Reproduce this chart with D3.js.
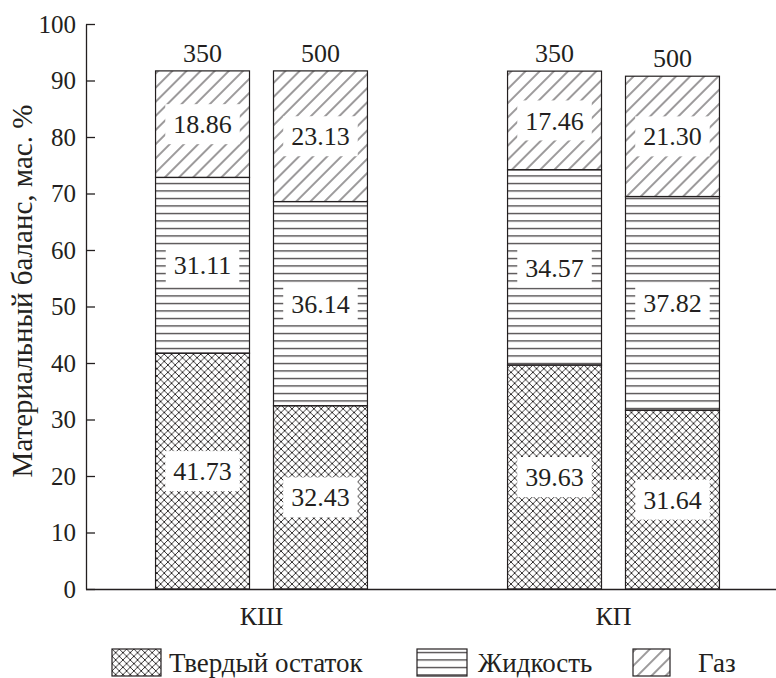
<!DOCTYPE html>
<html>
<head>
<meta charset="utf-8">
<script src="https://cdn.jsdelivr.net/npm/d3@7"></script>
<style>
  body { margin: 0; background: #fff; }
  svg text { font-family: "Liberation Serif", "DejaVu Serif", serif !important; fill: #231f20; }
</style>
</head>
<body>
<div id="chart"></div>
<script>
// data
var groups = ["КШ", "КП"];
var temps = ["350", "500"];
var keys = ["solid", "liquid", "gas"];
var legendNames = ["Твердый остаток", "Жидкость", "Газ"];
var solid = [41.73, 32.43, 39.63, 31.64];
var liquid = [31.11, 36.14, 34.57, 37.82];
var gas = [18.86, 23.13, 17.46, 21.30];
var yTicks = [0, 10, 20, 30, 40, 50, 60, 70, 80, 90, 100];

var width = 776, height = 678;
var ink = "#231f20";

// one row per bar
var rows = [];
groups.forEach(function(g, i) {
  temps.forEach(function(t, j) {
    var k = i * temps.length + j;
    rows.push({group: g, temp: t, solid: solid[k], liquid: liquid[k], gas: gas[k]});
  });
});

var svg = d3.select("#chart")
  .append("svg")
    .attr("width", width)
    .attr("height", height);

// hatch patterns
var defs = svg.append("defs");

var cross = defs.append("pattern")
    .attr("id", "pat-solid")
    .attr("patternUnits", "userSpaceOnUse")
    .attr("width", 7.3).attr("height", 7.3);
cross.append("path")
    .attr("d", "M0,0L7.3,7.3M7.3,0L0,7.3M-1,1L1,-1M6.3,8.3L8.3,6.3")
    .attr("stroke", ink).attr("stroke-width", 0.9).attr("fill", "none");

var horiz = defs.append("pattern")
    .attr("id", "pat-liquid")
    .attr("patternUnits", "userSpaceOnUse")
    .attr("width", 10).attr("height", 7.5);
horiz.append("line")
    .attr("x1", 0).attr("x2", 10).attr("y1", 3.5).attr("y2", 3.5)
    .attr("stroke", ink).attr("stroke-width", 1.1);

var diag = defs.append("pattern")
    .attr("id", "pat-gas")
    .attr("patternUnits", "userSpaceOnUse")
    .attr("width", 10).attr("height", 10)
    .attr("patternTransform", "rotate(45)");
diag.append("line")
    .attr("x1", 2).attr("x2", 2).attr("y1", 0).attr("y2", 10)
    .attr("stroke", ink).attr("stroke-width", 0.9);

// scales
var x0 = d3.scaleBand()
    .domain(groups)
    .range([85.5, 789.5])
    .paddingInner(0.398)
    .paddingOuter(0.199);

var x1 = d3.scaleBand()
    .domain(temps)
    .range([0, x0.bandwidth()])
    .paddingInner(0.2034)
    .paddingOuter(0);

var y = d3.scaleLinear()
    .domain([0, 100])
    .range([589, 24]);

// stack
var stacked = d3.stack().keys(keys)(rows);

var barG = svg.append("g");

barG.selectAll("g")
  .data(stacked)
  .enter().append("g")
    .attr("fill", function(d) { return "url(#pat-" + d.key + ")"; })
    .selectAll("rect")
    .data(function(d) { return d; })
    .enter().append("rect")
      .attr("x", function(d) { return x0(d.data.group) + x1(d.data.temp); })
      .attr("y", function(d) { return y(d[1]); })
      .attr("width", x1.bandwidth())
      .attr("height", function(d) { return y(d[0]) - y(d[1]); })
      .attr("stroke", ink)
      .attr("stroke-width", 1.2);

// value labels in white boxes
var fmt = d3.format(".2f");
stacked.forEach(function(layer) {
  layer.forEach(function(d) {
    var cx = x0(d.data.group) + x1(d.data.temp) + x1.bandwidth() / 2;
    var cy = y((d[0] + d[1]) / 2);
    var lg = barG.append("g");
    var box = lg.append("rect").attr("fill", "#fff");
    var t = lg.append("text")
        .attr("x", cx)
        .attr("y", cy)
        .attr("dy", "0.35em")
        .attr("text-anchor", "middle")
        .attr("font-size", 26)
        .text(fmt(d.data[layer.key]));
    var bb = t.node().getBBox();
    box.attr("x", cx - bb.width / 2 - 8)
       .attr("y", cy - 20)
       .attr("width", bb.width + 16)
       .attr("height", 40);
  });
});

// temperature labels above bars
barG.selectAll(".temp")
  .data(stacked[stacked.length - 1])
  .enter().append("text")
    .attr("class", "temp")
    .attr("x", function(d) { return x0(d.data.group) + x1(d.data.temp) + x1.bandwidth() / 2; })
    .attr("y", function(d) { return y(d[1]) - 9; })
    .attr("text-anchor", "middle")
    .attr("font-size", 26)
    .text(function(d) { return d.data.temp; });

// y axis
var yAxis = svg.append("g")
    .attr("transform", "translate(86,0)")
    .call(d3.axisLeft(y).tickValues(yTicks).tickSizeInner(-9).tickSizeOuter(0).tickPadding(10));
yAxis.selectAll("path, line").attr("stroke", ink).attr("stroke-width", 1.3);
yAxis.selectAll("text")
    .attr("font-size", 25)
    .attr("fill", ink);

// x axis
var xAxis = svg.append("g")
    .attr("transform", "translate(0,589)")
    .call(d3.axisBottom(x0).tickSize(0).tickSizeOuter(0).tickPadding(18));
xAxis.select("path").attr("stroke", ink).attr("stroke-width", 1.3);
xAxis.selectAll("text")
    .attr("font-size", 26)
    .attr("fill", ink);

// y axis title
svg.append("text")
    .attr("transform", "translate(32,291) rotate(-90)")
    .attr("text-anchor", "middle")
    .attr("font-size", 29)
    .text("Материальный баланс, мас. %");

// legend
var legendX = [112, 417, 633];
var legendW = [49, 50, 37];
var legendGap = [8, 11, 28];
var legend = svg.append("g")
  .selectAll("g")
  .data(keys)
  .enter().append("g")
    .attr("transform", function(d, i) { return "translate(" + legendX[i] + ",649)"; });

legend.append("rect")
    .attr("width", function(d, i) { return legendW[i]; })
    .attr("height", 27)
    .attr("fill", function(d) { return "url(#pat-" + d + ")"; })
    .attr("stroke", ink)
    .attr("stroke-width", 1.2);

legend.append("text")
    .attr("x", function(d, i) { return legendW[i] + legendGap[i]; })
    .attr("y", 23)
    .attr("font-size", 27)
    .text(function(d, i) { return legendNames[i]; });
</script>
</body>
</html>
